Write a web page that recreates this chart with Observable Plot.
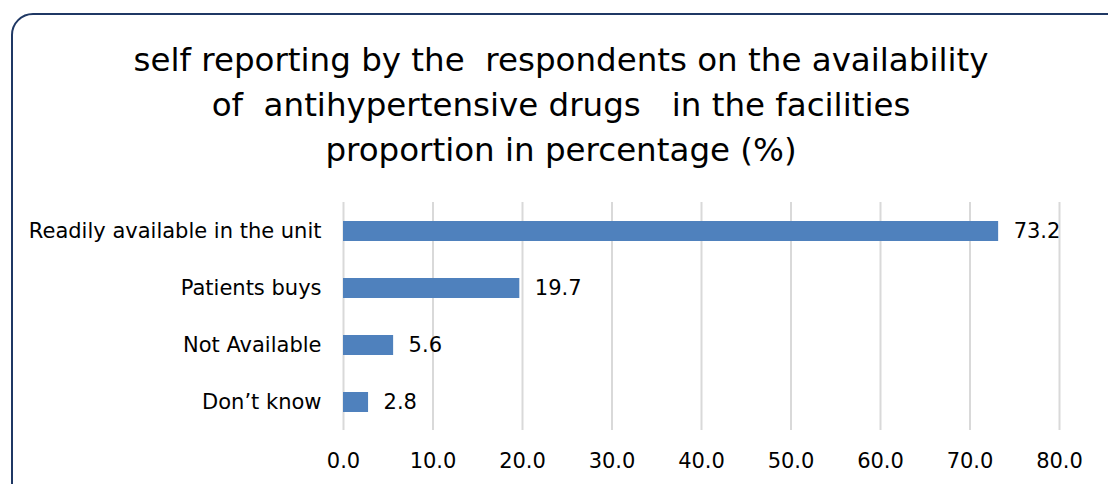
<!DOCTYPE html>
<html><head><meta charset="utf-8">
<script src="https://cdn.jsdelivr.net/npm/d3@7"></script>
<script src="https://cdn.jsdelivr.net/npm/@observablehq/plot@0.6"></script>
<style>
html,body{margin:0;padding:0;background:#fff;}
#wrap{position:relative;width:1108px;height:484px;overflow:hidden;font-family:"DejaVu Sans",sans-serif;}
#frame{position:absolute;left:11px;top:13px;width:1120px;height:500px;border:2px solid #1F3864;border-radius:22px;box-sizing:border-box;}
#title{position:absolute;left:0;top:38px;width:1122px;text-align:center;font-size:32.5px;line-height:45px;color:#000;white-space:pre;}
#chart{position:absolute;left:0;top:185px;}
#chart svg text{font-size:21px;}
</style></head>
<body><div id="wrap"><div id="frame"></div>
<div id="title">self reporting by the  respondents on the availability
of  antihypertensive drugs   in the facilities
proportion in percentage (%)</div>
<div id="chart"></div></div>
<script>
const categories = ["Readily available in the unit", "Patients buys", "Not Available", "Don’t know"];
const values = [73.2, 19.7, 5.6, 2.8];
const xTicks = [0, 10, 20, 30, 40, 50, 60, 70, 80];
const data = categories.map((c, i) => ({category: c, value: values[i]}));

const chart = Plot.plot({
  width: 1108,
  height: 299,
  marginTop: 17,
  marginBottom: 54,
  marginLeft: 343,
  marginRight: 49,
  style: {fontFamily: "DejaVu Sans, sans-serif", fontSize: "21px", color: "#000", background: "transparent"},
  x: {domain: [0, 80], ticks: xTicks, tickFormat: d => d.toFixed(1), label: null, tickSize: 0, tickPadding: 23},
  y: {domain: categories, label: null, tickSize: 0, tickPadding: 22, paddingInner: 0.65, paddingOuter: 0.325},
  marks: [
    Plot.gridX(xTicks, {stroke: "#d9d9d9", strokeOpacity: 1, strokeWidth: 2}),
    Plot.barX(data, {x: "value", y: "category", fill: "#4F81BD"}),
    Plot.text(data, {x: "value", y: "category", text: d => d.value.toFixed(1), textAnchor: "start", dx: 15, fontSize: 21, fill: "#000"})
  ]
});
document.getElementById("chart").appendChild(chart);
</script></body></html>
